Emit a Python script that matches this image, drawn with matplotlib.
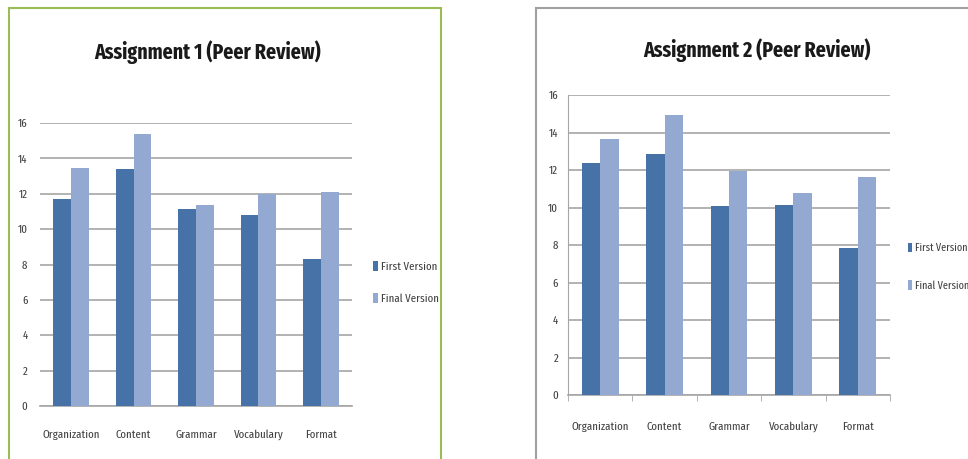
import numpy as np
import matplotlib.pyplot as plt
from matplotlib.patches import Rectangle

# Scores
categories = ["Organization", "Content", "Grammar", "Vocabulary", "Format"]
a1_first = [11.7, 13.4, 11.15, 10.8, 8.3]
a1_final = [13.45, 15.35, 11.35, 12.0, 12.1]
a2_first = [12.4, 12.85, 10.1, 10.15, 7.85]
a2_final = [13.65, 14.95, 11.95, 10.75, 11.65]
yticks = [0, 2, 4, 6, 8, 10, 12, 14, 16]
series_names = ["First Version", "Final Version"]

first_color = "#4672a8"
final_color = "#93a9d1"
grid_color = "#a6a6a6"
text_color = "#404040"
font = ["Fira Sans Extra Condensed", "Carlito", "DejaVu Sans"]
plt.rcParams["font.family"] = font

W, H = 968, 459
fig = plt.figure(figsize=(W / 100, H / 100), dpi=100)


def frac(x0, y0, x1, y1):
    # pixel box -> figure fraction [left, bottom, width, height]
    return [x0 / W, 1 - y1 / H, (x1 - x0) / W, (y1 - y0) / H]


def draw_chart(box, first, final, title, title_xy, legend_xy, legend_gap, legend_size,
               frame, frame_color, left_spine, xticks_on, xpad, ypad):
    fig.patches.append(Rectangle((frame[0] / W, 1 - frame[3] / H),
                                 (frame[2] - frame[0]) / W, (frame[3] - frame[1]) / H,
                                 transform=fig.transFigure, fill=False,
                                 edgecolor=frame_color, linewidth=1.5, zorder=0))
    ax = fig.add_axes(frac(*box))
    x = np.arange(len(categories))
    w = 0.285
    b1 = ax.bar(x - w / 2, first, w, color=first_color, zorder=3)
    b2 = ax.bar(x + w / 2, final, w, color=final_color, zorder=3)
    ax.set_xlim(-0.5, len(categories) - 0.5)
    ax.set_ylim(0, 16)
    ax.set_yticks(yticks)
    ax.yaxis.grid(True, color=grid_color, linewidth=1.2, zorder=0)
    ax.set_xticks(x)
    ax.set_xticklabels(categories)
    ax.tick_params(axis="both", labelsize=8.5, colors=text_color, length=0)
    ax.tick_params(axis="x", pad=xpad)
    ax.tick_params(axis="y", pad=ypad)
    if xticks_on:
        ax.set_xticks(np.arange(len(categories) + 1) - 0.5, minor=True)
        ax.tick_params(axis="x", which="minor", length=4, color=grid_color)
    for side in ["top", "right"]:
        ax.spines[side].set_visible(False)
    ax.spines["left"].set_visible(left_spine)
    ax.spines["left"].set_color(grid_color)
    ax.spines["bottom"].set_color(grid_color)
    ax.spines["bottom"].set_linewidth(1.2)
    fig.text(title_xy[0] / W, 1 - title_xy[1] / H, title, ha="center", va="center",
             fontsize=15.5, fontweight="bold", color="#1a1a1a")
    fig.legend([b1, b2], series_names, loc="center left",
               bbox_to_anchor=(legend_xy[0] / W, 1 - legend_xy[1] / H),
               frameon=False, fontsize=legend_size, labelcolor=text_color,
               handlelength=0.4, handleheight=0.9, handletextpad=0.3,
               labelspacing=legend_gap, borderpad=0)
    return ax


draw_chart((40, 123, 352, 406), a1_first, a1_final, "Assignment 1 (Peer Review)",
           (207, 52), (367, 283), 1.75, 8.5, (9, 8, 441, 470), "#9bbb59", False, False,
           17, 9)
draw_chart((568, 95, 890, 395), a2_first, a2_final, "Assignment 2 (Peer Review)",
           (757, 50), (902, 267), 2.4, 8, (536, 8, 975, 470), "#a0a0a0", True, True,
           19, 7)

fig.savefig("out.png", dpi=100, facecolor="white")
